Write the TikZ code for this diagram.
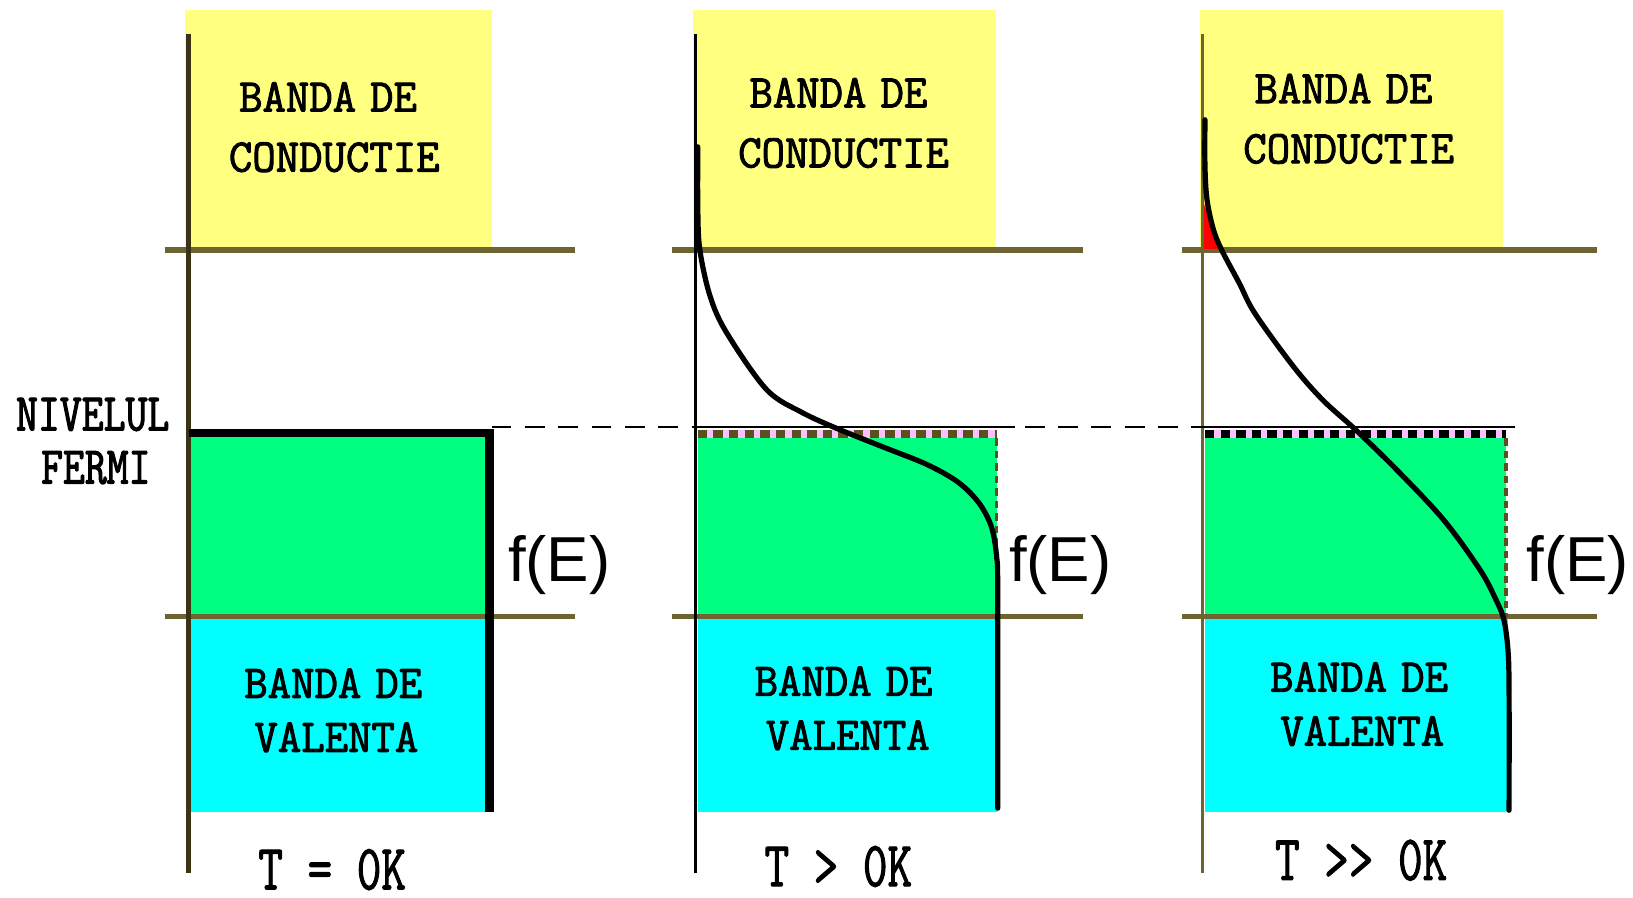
\documentclass[tikz,border=0pt]{standalone}
\usepackage{fontspec}
\newfontfamily\bandfont[FakeStretch=0.97,FakeBold=2]{Latin Modern Mono}
\newfontfamily\fermifont[FakeStretch=0.80,FakeBold=2]{Latin Modern Mono}
\newfontfamily\tempfont[FakeStretch=0.74,FakeBold=1.5]{Latin Modern Mono}
\newfontfamily\fefont{Liberation Sans}
\newcommand\nsp{\kern-9pt\ }
\definecolor{bandyellow}{RGB}{255,255,128}
\definecolor{bandgreen}{RGB}{0,255,128}
\definecolor{bandcyan}{RGB}{0,255,255}
\definecolor{levelc}{RGB}{110,100,50}
\definecolor{axisdark}{RGB}{58,52,20}
\definecolor{dotolive}{RGB}{90,80,30}
\definecolor{dotpink}{RGB}{255,190,255}
\begin{document}
\begin{tikzpicture}[x=1pt,y=-1pt,
  bandtxt/.style={font=\bandfont\fontsize{45}{48}\selectfont, inner sep=0pt},
  fermitxt/.style={font=\fermifont\fontsize{51}{54}\selectfont, inner sep=0pt},
  temptxt/.style={font=\tempfont\fontsize{62}{64}\selectfont, inner sep=0pt},
  fetxt/.style={font=\fefont\fontsize{61}{64}\selectfont, inner sep=0pt},
  level/.style={line width=5pt, draw=levelc},
  fcurve/.style={line width=5pt, draw=black, line cap=round, line join=round},
  fermiline/.style={line width=2.5pt, draw=black, dash pattern=on 19pt off 13pt},
  pinkrow/.style={line width=8pt, draw=dotpink},
  squares/.style={line width=8pt, dash pattern=on 9pt off 6pt},
  rightdots/.style={line width=3pt, draw=dotolive, dash pattern=on 7pt off 5pt}
]
\useasboundingbox (0,0) rectangle (1568,862);
% ---- fills
\fill[bandyellow] (178,10) rectangle (472,238);
\fill[bandyellow] (665,10) rectangle (956,238);
\fill[bandyellow] (1152,10) rectangle (1443,238);
\fill[bandgreen] (181,412) rectangle (472,592);
\fill[bandgreen] (670,418) rectangle (957,592);
\fill[bandgreen] (1157,418) rectangle (1446,592);
\fill[bandcyan] (181,592) rectangle (472,780);
\fill[bandcyan] (670,592) rectangle (957,780);
\fill[bandcyan] (1157,592) rectangle (1448,780);
% ---- band edges
\draw[level] (158,240) -- (552,240);
\draw[level] (645,240) -- (1040,240);
\draw[level] (1135,240) -- (1533,240);
\draw[level] (158,592) -- (552,592);
\draw[level] (645,592) -- (1040,592);
\draw[level] (1135,592) -- (1533,592);
% ---- axes
\draw[line width=5pt, axisdark] (181,33) -- (181,838);
\draw[line width=2.5pt, black] (668,33) -- (668,838);
\draw[line width=3pt, levelc] (1155,33) -- (1155,838);
% ---- dotted borders of the occupied states
\draw[pinkrow] (670,417) -- (957,417);
\draw[squares, dotolive] (670,417) -- (957,417);
\draw[pinkrow] (1157,417) -- (1446,417);
\draw[squares, black] (1157,417) -- (1446,417);
\draw[rightdots] (957,421) -- (957,592);
\draw[rightdots] (1446,421) -- (1446,592);
% ---- Fermi level
\draw[fermiline] (472,410) -- (1455,410);
\draw[line width=2.5pt] (668,410) -- (975,410);
\draw[line width=2.5pt] (1150,410) -- (1455,410);
% ---- red tail above the conduction edge
\fill[red] (1156,196) -- (1156,239) -- (1172,239) -- (1165,221) -- (1160,205) -- cycle;
% ---- f(E) curves
\draw[line width=8pt, line join=miter] (181,416) -- (470,416) -- (470,780);
\draw[fcurve] plot[smooth, tension=0.55] coordinates {(670,141) (670,200) (672,240) (682,285) (698,320) (736,374) (770,396) (805,412) (850,430) (890,446) (920,463) (940,483) (952,506) (957,535) (958,570) (958,776)};
\draw[fcurve] plot[smooth, tension=0.55] coordinates {(1157,115) (1157,160) (1159,192) (1165,220) (1173,240) (1190,272) (1205,301) (1242,352) (1270,384) (1302,413) (1341,451) (1386,499) (1421,547) (1436,575) (1444,595) (1448,625) (1449,665) (1449,778)};
% ---- texts
\node[bandtxt] (c1a) at (315,93) {BANDA\nsp DE};
\node[bandtxt] (c1b) at (321,151) {CONDUCTIE};
\node[bandtxt] (c2a) at (805,89) {BANDA\nsp DE};
\node[bandtxt] (c2b) at (810,147) {CONDUCTIE};
\node[bandtxt] (c3a) at (1290,85) {BANDA\nsp DE};
\node[bandtxt] (c3b) at (1295,143) {CONDUCTIE};
\node[bandtxt] (v1a) at (320,656) {BANDA\nsp DE};
\node[bandtxt] (v1b) at (323,708) {VALENTA};
\node[bandtxt] (v2a) at (810,654) {BANDA\nsp DE};
\node[bandtxt] (v2b) at (814,706) {VALENTA};
\node[bandtxt] (v3a) at (1305,650) {BANDA\nsp DE};
\node[bandtxt] (v3b) at (1308,702) {VALENTA};
\node[fermitxt] (nf1) at (89,398) {NIVELUL};
\node[fermitxt] (nf2) at (92,449) {FERMI};
\node[fetxt] (fe1) at (537,543) {f(E)};
\node[fetxt] (fe2) at (1018,543) {f(E)};
\node[fetxt] (fe3) at (1515,543) {f(E)};
\node[temptxt] (t1) at (319,835) {T = 0K};
\node[temptxt] (t2) at (805,832) {T > 0K};
\node[temptxt] (t3) at (1307,826) {T >> 0K};
\end{tikzpicture}
\end{document}
